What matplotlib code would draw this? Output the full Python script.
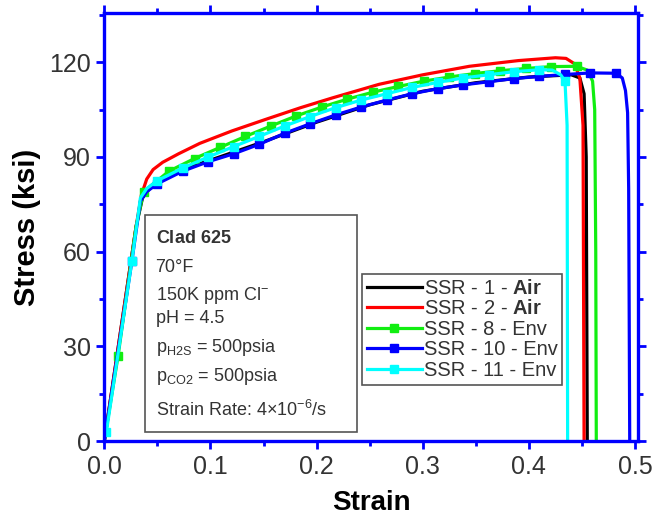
import matplotlib
matplotlib.use("Agg")
import matplotlib.pyplot as plt
from matplotlib.patches import Rectangle
from matplotlib.ticker import MultipleLocator, FormatStrFormatter

plt.rcParams['font.family'] = ['Liberation Sans', 'DejaVu Sans']
plt.rcParams['mathtext.fontset'] = 'custom'
plt.rcParams['mathtext.rm'] = 'Liberation Sans'
plt.rcParams['mathtext.it'] = 'Liberation Sans:italic'
plt.rcParams['mathtext.bf'] = 'Liberation Sans:bold'

# stress-strain data (strain, ksi)
ssr1_strain = [0.0, 0.030, 0.036, 0.045, 0.06, 0.10, 0.15, 0.20, 0.25, 0.30, 0.35, 0.40, 0.44, 0.448, 0.452, 0.454, 0.455]
ssr1_stress = [0, 68, 77, 81, 84.5, 89, 94.8, 101, 106.5, 110.8, 113.5, 115.3, 116, 115, 110, 90, 0]

ssr2_strain = [0.0, 0.030, 0.035, 0.040, 0.046, 0.055, 0.070, 0.090, 0.120, 0.153, 0.185, 0.215, 0.259,
               0.30, 0.344, 0.39, 0.425, 0.435, 0.443, 0.448, 0.451, 0.452]
ssr2_stress = [0, 68, 78, 83, 86, 88.3, 91, 94.3, 98.2, 102, 105.6, 108.7, 113,
               116, 118.7, 120.5, 121.4, 121.2, 119.5, 115, 100, 0]

ssr8_strain = [0.0, 0.013, 0.030, 0.037, 0.061, 0.085, 0.109, 0.133, 0.157, 0.181, 0.205, 0.229, 0.253, 0.277,
               0.301, 0.325, 0.349, 0.373, 0.397, 0.421, 0.445, 0.455, 0.460, 0.462, 0.463, 0.4635]
ssr8_stress = [0, 27, 68, 79, 85.5, 89.5, 93, 96.5, 99.8, 103, 105.8, 108.3, 110.5, 112.3,
               114, 115.3, 116.4, 117.3, 118, 118.6, 118.7, 117.5, 114, 105, 60, 0]
ssr8_marks = [1] + list(range(3, 21))

ssr10_strain = [0.0, 0.026, 0.034, 0.040, 0.050, 0.074, 0.098, 0.122, 0.146, 0.170, 0.194, 0.218, 0.242, 0.266,
                0.290, 0.314, 0.338, 0.362, 0.386, 0.410, 0.434, 0.458, 0.482, 0.488, 0.491, 0.493, 0.494, 0.495]
ssr10_stress = [0, 57, 76, 79, 81.5, 85.5, 88.5, 91, 94, 97.5, 100.5, 103.3, 105.8, 108,
                110, 111.6, 112.8, 113.8, 114.8, 115.5, 116.1, 116.6, 116.5, 115, 111, 104, 80, 0]
ssr10_marks = [1] + list(range(4, 23))

ssr11_strain = [0.002, 0.026, 0.034, 0.040, 0.050, 0.074, 0.098, 0.122, 0.146, 0.170, 0.194, 0.218, 0.242,
                0.266, 0.290, 0.314, 0.338, 0.362, 0.386, 0.410, 0.422, 0.430, 0.434, 0.436, 0.4365]
ssr11_stress = [3, 57, 77, 80, 82.5, 86.5, 90, 93.3, 96.5, 99.8, 102.8, 105.6, 108,
                110, 112, 113.6, 115, 116, 117, 117.6, 117.5, 116, 114, 100, 0]
ssr11_marks = [0, 1] + list(range(4, 20)) + [22]

labels = [r"SSR - 1 - $\mathbf{Air}$", r"SSR - 2 - $\mathbf{Air}$", "SSR - 8 - Env",
          "SSR - 10 - Env", "SSR - 11 - Env"]

info_lines = [r"$\mathbf{Clad\ 625}$", "70°F", r"150K ppm Cl$^{-}$", "pH = 4.5",
              r"p$_{\mathrm{H2S}}$ = 500psia", r"p$_{\mathrm{CO2}}$ = 500psia",
              r"Strain Rate: 4$\times$10$^{-6}$/s"]

blue = '#0000ff'
txt = '#333333'

fig = plt.figure(figsize=(6.6, 5.29), dpi=100)
ax = fig.add_axes([0.158, 0.166, 0.809, 0.809])

lw = 2.3
ax.plot(ssr1_strain, ssr1_stress, color='black', lw=lw, label=labels[0])
ax.plot(ssr2_strain, ssr2_stress, color='#ff0000', lw=lw, label=labels[1])
ax.plot(ssr8_strain, ssr8_stress, color='#11ee11', lw=lw, marker='s', ms=6, markevery=ssr8_marks, label=labels[2])
ax.plot(ssr10_strain, ssr10_stress, color='#0000ff', lw=lw, marker='s', ms=6, markevery=ssr10_marks, label=labels[3])
ax.plot(ssr11_strain, ssr11_stress, color='#00ffff', lw=lw, marker='s', ms=6, markevery=ssr11_marks, label=labels[4])

ax.set_xlim(0, 0.503)
ax.set_ylim(0, 135.5)
ax.xaxis.set_major_locator(MultipleLocator(0.1))
ax.xaxis.set_minor_locator(MultipleLocator(0.05))
ax.yaxis.set_major_locator(MultipleLocator(30))
ax.yaxis.set_minor_locator(MultipleLocator(15))
ax.xaxis.set_major_formatter(FormatStrFormatter('%.1f'))

for s in ax.spines.values():
    s.set_color(blue)
    s.set_linewidth(2.4)
ax.tick_params(which='both', direction='out', color=blue, top=True, right=True, labelcolor=txt, labelsize=18)
ax.tick_params(which='major', length=6, width=2)
ax.tick_params(which='minor', length=3.5, width=2)
ax.tick_params(axis='x', pad=4)

ax.set_xlabel("Strain", fontsize=20, fontweight='bold', labelpad=8)
ax.set_ylabel("Stress (ksi)", fontsize=21, fontweight='bold', labelpad=6)

# info box
ax.add_patch(Rectangle((0.077, 0.021), 0.397, 0.507, transform=ax.transAxes,
                       facecolor='white', edgecolor='#555555', lw=1.2, zorder=5))
ys = [0.474, 0.407, 0.341, 0.287, 0.220, 0.150, 0.073]
for line, y in zip(info_lines, ys):
    ax.text(0.096, y, line, transform=ax.transAxes, fontsize=13, color=txt, va='center', zorder=6)

leg = ax.legend(loc='lower left', bbox_to_anchor=(0.483, 0.131, 0.375, 0.30), mode='expand',
                fontsize=14.5, handlelength=2.7, handletextpad=0.1, labelspacing=0.08,
                borderpad=0.25, borderaxespad=0, fancybox=False, framealpha=1,
                edgecolor='#555555', labelcolor=txt)
leg.get_frame().set_linewidth(1.2)
leg.set_zorder(7)

plt.savefig("out.png", dpi=100)
